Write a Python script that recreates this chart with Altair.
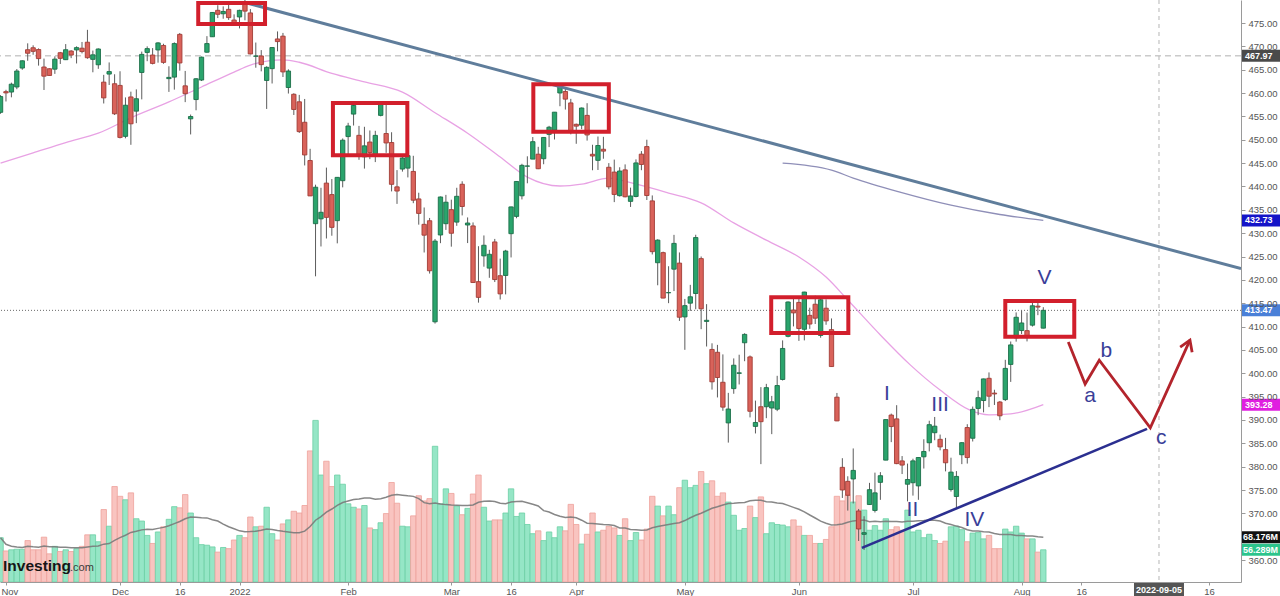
import altair as alt
import pandas as pd

# ---------------- daily OHLC (index -1 = 29 Oct 2021 ... 191 = 5 Aug 2022) ----------------
opens = [
    455.87,
    460.30, 460.22, 461.30, 465.36, 469.28, 469.70, 469.32, 465.58, 465.21, 465.12, 468.64, 467.15, 469.00, 469.24, 469.61, 470.89, 467.22, 466.06, 462.34, 464.07, 462.00,
    461.64, 450.73, 459.17, 456.13, 464.41, 468.70, 468.15, 469.23, 470.19, 463.09, 463.42, 472.57, 461.55, 454.48, 458.61, 462.79, 468.75, 472.06, 477.72, 476.98, 477.93, 475.64,
    476.30, 479.22, 477.16, 467.89, 467.95, 462.70, 465.23, 471.59, 472.19, 461.19, 459.74, 458.13, 453.75, 445.56, 432.03, 433.06, 440.72, 438.26, 432.68, 441.24,
    450.68, 455.50, 450.95, 446.35, 449.51, 446.73, 455.22, 451.34, 449.41, 439.92, 443.73, 443.93, 443.22, 437.33, 431.89, 432.66, 411.02, 429.61, 432.03,
    435.04, 432.37, 440.47, 431.75, 431.55, 419.62, 425.14, 422.52, 428.12, 420.89, 420.94, 429.89, 433.59, 438.00, 444.34, 445.86, 446.91, 445.94, 451.16, 452.06, 460.02, 460.34, 457.89,
    453.31, 453.13, 455.22, 446.89, 445.59, 447.97, 444.11, 443.08, 438.03, 443.55, 436.81, 437.86, 446.92, 448.54, 436.91, 423.67, 425.83, 417.24, 422.29, 423.59,
    412.07, 415.01, 417.08, 424.55, 411.10, 405.10, 404.49, 398.07, 389.37, 396.71, 399.98, 406.53, 403.50, 388.62, 392.83, 392.83, 392.56, 392.31, 398.67, 407.91, 413.55,
    415.17, 409.42, 412.40, 414.78, 408.10, 413.93, 409.34, 394.88, 379.85, 376.85, 377.36, 370.51, 365.51, 371.89, 370.62, 376.64, 381.40, 391.05, 390.23, 381.23, 376.24,
    376.56, 375.88, 382.11, 385.12, 387.27, 385.85, 383.65, 375.10, 373.61, 382.55, 388.38, 386.08, 392.47, 394.16, 398.92, 395.75, 393.84, 394.36, 401.89, 407.58,
    409.15, 409.12, 410.30, 414.37, 409.66,
]
highs = [
    459.56,
    460.70, 462.23, 465.15, 467.00, 470.65, 470.23, 469.57, 467.38, 465.29, 467.86, 468.81, 470.49, 469.19, 470.01, 470.94, 473.54, 469.10, 469.57, 463.90, 466.56, 464.03,
    464.67, 459.07, 460.30, 460.79, 468.88, 470.00, 469.63, 470.90, 470.56, 465.74, 470.86, 472.87, 464.74, 455.40, 463.21, 467.81, 472.19, 477.31, 478.81, 478.56, 479.00, 476.86,
    477.85, 479.98, 477.98, 470.82, 469.20, 465.74, 469.85, 473.20, 472.88, 465.09, 459.96, 459.61, 458.74, 448.06, 440.38, 439.72, 444.04, 441.59, 442.00, 450.28,
    453.63, 458.12, 452.97, 452.78, 451.99, 451.92, 457.88, 457.71, 451.61, 443.50, 446.28, 448.06, 446.57, 438.66, 435.50, 433.26, 428.76, 437.84, 438.20,
    437.17, 439.72, 441.11, 433.37, 432.30, 427.21, 429.51, 426.43, 428.77, 424.55, 426.43, 435.68, 441.07, 444.86, 446.46, 450.58, 448.49, 450.50, 452.98, 455.91, 462.07, 461.20, 458.76,
    453.46, 456.91, 457.83, 448.93, 450.69, 450.63, 445.00, 445.75, 444.11, 444.73, 439.75, 445.80, 447.57, 450.01, 438.08, 428.69, 426.04, 422.92, 429.64, 425.87,
    415.92, 418.93, 429.66, 425.00, 414.80, 406.41, 406.08, 404.04, 395.80, 403.18, 403.97, 408.57, 403.80, 394.14, 397.03, 397.73, 395.15, 399.45, 407.04, 415.38, 416.46,
    416.24, 417.44, 414.04, 416.61, 416.22, 415.82, 411.74, 395.78, 381.81, 377.94, 383.90, 370.94, 369.38, 376.53, 378.72, 378.83, 390.09, 391.36, 393.16, 382.27, 380.66,
    381.70, 381.98, 385.87, 389.83, 390.64, 386.87, 386.16, 381.92, 379.05, 385.25, 389.09, 392.87, 396.26, 398.84, 400.18, 396.47, 394.06, 402.88, 406.80, 413.03,
    413.41, 413.00, 415.68, 415.09, 414.15,
]
lows = [
    455.56,
    458.20, 459.09, 460.83, 464.99, 466.92, 468.20, 465.88, 460.66, 463.75, 464.11, 466.23, 467.07, 467.48, 466.34, 468.50, 467.35, 464.45, 465.19, 457.77, 461.73, 455.30,
    450.29, 450.31, 448.92, 453.56, 458.65, 466.83, 466.14, 466.51, 466.27, 460.25, 460.74, 464.80, 458.06, 451.14, 456.31, 462.58, 468.64, 472.01, 476.06, 475.92, 475.67, 474.67,
    473.85, 475.58, 468.28, 465.43, 464.65, 456.60, 462.05, 468.94, 463.44, 459.90, 455.31, 451.46, 444.50, 437.95, 420.76, 427.15, 428.86, 429.45, 427.82, 439.81,
    446.94, 453.05, 445.71, 443.83, 445.85, 445.22, 455.01, 447.20, 438.94, 436.27, 443.18, 441.94, 436.42, 431.82, 425.86, 421.35, 410.64, 427.86, 430.70,
    427.11, 431.57, 433.80, 427.88, 419.36, 415.12, 422.82, 420.44, 419.53, 415.79, 416.89, 424.80, 433.19, 437.22, 440.68, 445.86, 443.71, 444.76, 448.43, 450.06, 457.18, 456.47, 451.16,
    449.14, 452.26, 449.82, 443.47, 443.53, 445.94, 439.39, 436.65, 437.84, 437.68, 435.61, 437.68, 443.48, 437.10, 425.44, 418.84, 416.07, 415.01, 417.60, 411.21,
    405.02, 413.36, 413.71, 409.44, 405.73, 396.50, 394.82, 391.96, 385.15, 395.61, 397.60, 402.58, 390.55, 387.11, 380.54, 390.38, 386.96, 391.89, 398.45, 407.70, 410.03,
    406.93, 407.04, 409.51, 410.55, 407.61, 410.38, 401.44, 389.75, 373.30, 370.59, 372.12, 364.08, 362.17, 371.81, 370.18, 372.89, 381.37, 385.25, 380.53, 378.42, 372.56,
    373.80, 372.90, 379.60, 383.27, 385.66, 383.50, 378.99, 374.66, 371.04, 380.54, 380.66, 385.39, 391.03, 391.63, 392.75, 393.21, 389.95, 394.05, 398.15, 406.77,
    408.40, 406.82, 410.00, 412.44, 409.60,
]
closes = [
    459.25,
    460.04, 461.90, 464.72, 466.91, 468.53, 468.93, 467.38, 463.62, 463.77, 467.27, 467.43, 469.28, 468.14, 469.73, 468.89, 467.57, 468.19, 469.44, 458.97, 464.60, 455.56,
    450.50, 457.40, 453.42, 458.79, 468.28, 469.52, 466.35, 470.74, 466.57, 463.36, 470.60, 466.45, 459.87, 454.98, 463.06, 467.69, 470.60, 477.26, 476.87, 477.48, 476.16, 474.96,
    477.71, 477.55, 468.38, 467.94, 466.09, 465.51, 469.75, 471.02, 464.53, 464.72, 456.49, 451.75, 446.75, 437.98, 439.84, 434.47, 433.38, 431.24, 441.95, 449.91,
    452.95, 457.35, 446.60, 448.70, 447.26, 450.94, 457.54, 449.32, 440.46, 439.02, 446.10, 446.60, 437.06, 434.23, 429.57, 421.95, 428.30, 437.75, 436.63,
    429.98, 437.89, 435.71, 432.17, 419.43, 416.25, 427.41, 425.48, 420.07, 417.00, 426.17, 435.62, 441.07, 444.52, 444.39, 449.59, 443.80, 450.49, 452.69, 455.91, 461.55, 458.70, 451.64,
    452.92, 456.80, 451.03, 446.52, 448.77, 447.57, 439.92, 438.29, 443.31, 437.79, 437.97, 445.04, 444.71, 438.06, 426.04, 428.51, 416.10, 417.27, 427.81, 412.00,
    414.48, 416.38, 429.06, 413.81, 411.34, 398.17, 399.09, 392.75, 392.34, 401.72, 400.09, 408.32, 391.86, 389.46, 389.63, 396.92, 393.89, 397.37, 405.31, 415.26, 412.93,
    409.59, 417.39, 410.54, 411.79, 415.74, 411.22, 401.44, 389.80, 375.00, 373.87, 379.20, 366.65, 365.86, 375.07, 374.39, 378.06, 390.08, 388.59, 380.65, 380.34, 377.25,
    381.24, 381.96, 383.25, 388.99, 388.67, 384.23, 380.83, 378.83, 377.91, 385.13, 381.95, 392.27, 394.77, 398.79, 395.09, 395.57, 390.89, 401.04, 406.07, 411.99,
    410.77, 408.06, 414.45, 414.17, 413.47,
]
# volume in millions
volumes = [
    77,
    54, 56, 57, 57, 72, 56, 56, 78, 49, 62, 53, 56, 53, 58, 62, 82, 82, 70, 126, 97, 166,
    149, 143, 155, 110, 106, 81, 67, 87, 96, 109, 131, 129, 152, 120, 77, 65, 64, 61, 52, 60, 58, 73,
    81, 77, 113, 96, 97, 130, 84, 73, 101, 108, 123, 120, 133, 228, 281, 186, 210, 166, 186, 170,
    136, 130, 127, 133, 94, 91, 103, 119, 173, 137, 97, 96, 115, 150, 141, 145, 236, 136, 162,
    154, 132, 117, 128, 153, 186, 130, 106, 108, 108, 120, 162, 114, 120, 100, 84, 89, 72, 87, 77, 96, 89, 135,
    100, 66, 83, 120, 87, 90, 97, 94, 81, 110, 72, 86, 73, 92, 149, 132, 115, 132, 117, 164,
    177, 164, 168, 192, 171, 176, 149, 155, 139, 116, 90, 93, 132, 112, 148, 84, 103, 100, 99, 96, 108,
    97, 81, 81, 67, 67, 74, 96, 149, 141, 151, 139, 150, 125, 90, 98, 90, 110, 91, 96, 90, 125,
    87, 90, 77, 83, 72, 67, 71, 96, 97, 91, 70, 85, 86, 75, 81, 58, 58, 92, 87, 97,
    85, 75, 75, 52, 56,
]

# moving averages (trading-day index, price)
ma50_idx = [-1, 5, 11, 17, 23, 30, 36, 42, 45, 51, 54, 60, 66, 73, 79, 85, 91, 96, 102, 106, 111, 115, 122, 128, 134, 140, 146, 151, 155, 161, 166.5, 172, 177.5, 181, 185, 191]
ma50_val = [445.0, 447.2, 449.4, 451.4, 454.7, 458.1, 461.3, 464.5, 466.0, 467.1, 466.6, 464.2, 462.4, 460.2, 455.8, 451.4, 446.3, 442.0, 440.1, 440.5, 441.8, 440.8, 438.6, 436.5, 432.2, 428.5, 424.9, 420.6, 415.7, 408.2, 401.8, 396.4, 392.1, 391.1, 391.3, 393.28]
ma200_idx = [143, 152, 156, 164.6, 174, 183, 191]
ma200_val = [445.0, 443.5, 441.8, 438.8, 436.0, 434.0, 432.73]

# x-axis labels (trading-day index)
xlab_idx = [0, 21, 32, 43, 63, 82, 93, 105, 125, 146, 167, 187, 198, 221.5]
xlab_txt = ["Nov", "Dec", "16", "2022", "Feb", "Mar", "16", "Apr", "May", "Jun", "Jul", "Aug", "16", "16"]
ylab_vals = [v for v in range(360, 481, 5) if v != 365]

# annotations
down_idx, down_val = [44, 227.4], [479.4, 422.4]
up_idx, up_val = [157.6, 210.1], [362.6, 388.1]
box_i0 = [35.4, 60.2, 97.1, 140.9, 184.0]
box_i1 = [47.7, 73.9, 111.0, 155.1, 196.7]
box_lo = [474.8, 446.7, 451.7, 408.6, 407.8]
box_hi = [479.3, 457.9, 461.9, 416.3, 415.5]
zig_idx = [195.6, 198.7, 201.3, 210.7, 218.0]
zig_val = [406.7, 397.7, 402.8, 388.3, 407.1]
head_idx = [216.2, 218.0, 218.4]
head_val = [405.6, 407.1, 404.5]
wave_txt = ["I", "II", "III", "IV", "V", "a", "b", "c"]
wave_idx = [162.2, 166.9, 172.0, 178.3, 191.2, 199.6, 202.6, 212.7]
wave_val = [395.6, 370.7, 393.2, 368.6, 420.4, 395.1, 404.8, 386.1]
tag_val = [467.97, 432.73, 413.47, 393.28]
tag_txt = ["467.97", "432.73", "413.47", "393.28"]
tag_col = ["#4a4a4a", "#1414c8", "#4a80d8", "#e01fe0"]
cross_idx, cross_txt = 212.3, "2022-09-05"

# ---------------- build ----------------
idx = list(range(-1, 192))
df = pd.DataFrame({"i": idx, "open": opens, "high": highs, "low": lows, "close": closes, "vol": volumes})
df["vma"] = df["vol"].rolling(20, min_periods=1).mean()

W, H = 1241, 582
XD = [-1.1, 227.4]
YD = [355.3, 479.93]
VD = [0, 1012]
FONT = "Liberation Sans"
up_cond = "datum.close >= datum.open"

label_expr = " : ".join(f"datum.value == {v} ? '{t}'" for v, t in zip(xlab_idx, xlab_txt)) + " : ''"
XAXIS = alt.Axis(values=xlab_idx, labelExpr=label_expr, title=None, grid=False, domainColor="#9a9a9a",
                 tickColor="#9a9a9a", tickSize=3, labelColor="#555555", labelFontSize=9.5, labelFont=FONT,
                 labelPadding=1, labelFlush=8, labelFlushOffset=5, labelOverlap=False, labelBound=False, zindex=1)
YAXIS = alt.Axis(orient="right", values=ylab_vals, format=".2f", title=None, grid=False,
                 tickSize=4, labelPadding=3, labelFontSize=9.5, labelFont=FONT, labelColor="#555555",
                 domainColor="#9a9a9a", tickColor="#9a9a9a", zindex=1, labelFlush=False, labelOverlap=False)


def X(field):
    return alt.X(field, scale=alt.Scale(domain=XD, nice=False, zero=False), axis=XAXIS)


def Y(field):
    return alt.Y(field, scale=alt.Scale(domain=YD, nice=False, zero=False), axis=None)


def V(field):
    return alt.Y(field, scale=alt.Scale(domain=VD, nice=False, zero=False), axis=None)


base = alt.Chart(df)

# ---- volume
vol_bars = base.transform_calculate(x0="datum.i-0.5", x1="datum.i+0.5").mark_bar(strokeWidth=0.8, clip=True).encode(
    x=X("x0:Q"), x2="x1:Q", y=V("vol:Q"), y2=alt.datum(0),
    fill=alt.condition(up_cond, alt.value("#95e6c6"), alt.value("#f9c4c0")),
    stroke=alt.condition(up_cond, alt.value("#6ccfa5"), alt.value("#eea29c")),
)
vol_ma = base.mark_line(color="#7a7a7a", strokeWidth=1.5, opacity=0.9, clip=True).encode(x=X("i:Q"), y=V("vma:Q"))
last = df.iloc[-1]
vtags = pd.DataFrame({"v": [last["vma"], last["vol"]], "t": ["68.176M", "56.289M"], "c": ["#111111", "#2cc48c"]})
vtag_bg = alt.Chart(vtags).mark_point(shape="M0,-6H39V6H0Z", size=4, filled=True, opacity=1, strokeWidth=0, clip=False).encode(
    x=alt.value(1241.5), y=V("v:Q"), color=alt.Color("c:N", scale=None))
vtag_tx = alt.Chart(vtags).mark_text(align="left", baseline="middle", color="white", fontSize=9, fontWeight="bold", font=FONT, clip=False).encode(
    x=alt.value(1243), y=V("v:Q"), text="t:N")

# ---- price
ref_dash = alt.Chart(pd.DataFrame({"v": [467.97]})).mark_rule(color="#b0b0b0", strokeDash=[6, 4], strokeWidth=1).encode(y=Y("v:Q"))
ref_dot = alt.Chart(pd.DataFrame({"v": [413.47]})).mark_rule(color="#6a6a6a", strokeDash=[1, 2], strokeWidth=1).encode(y=Y("v:Q"))
vdf = pd.DataFrame({"i": [cross_idx], "t": [cross_txt]})
vline = alt.Chart(vdf).mark_rule(color="#b5b5b5", strokeDash=[4, 4], strokeWidth=1).encode(x=X("i:Q"))

ma50 = alt.Chart(pd.DataFrame({"i": ma50_idx, "v": ma50_val})).mark_line(color="#e8a2e4", strokeWidth=1.3, interpolate="monotone", clip=True).encode(
    x=X("i:Q"), y=Y("v:Q"))
ma200 = alt.Chart(pd.DataFrame({"i": ma200_idx, "v": ma200_val})).mark_line(color="#8f8fb8", strokeWidth=1.3, interpolate="monotone", clip=True).encode(
    x=X("i:Q"), y=Y("v:Q"))

wicks = base.mark_rule(color="#5c5c5c", strokeWidth=1, clip=True).encode(x=X("i:Q"), y=Y("low:Q"), y2="high:Q")
bodies = base.transform_calculate(x0="datum.i-0.4", x1="datum.i+0.4").mark_bar(strokeWidth=0.9, clip=True).encode(
    x=X("x0:Q"), x2="x1:Q", y=Y("open:Q"), y2="close:Q",
    fill=alt.condition(up_cond, alt.value("#2aa46c"), alt.value("#d9625a")),
    stroke=alt.condition(up_cond, alt.value("#1b6e48"), alt.value("#a13c35")),
)

down = alt.Chart(pd.DataFrame({"i": down_idx, "v": down_val})).mark_line(color="#5f7d9b", strokeWidth=3, clip=True).encode(
    x=X("i:Q"), y=Y("v:Q"))
upl = alt.Chart(pd.DataFrame({"i": up_idx, "v": up_val})).mark_line(color="#2b2f90", strokeWidth=2.6, clip=True).encode(
    x=X("i:Q"), y=Y("v:Q"))
boxes = alt.Chart(pd.DataFrame({"a": box_i0, "b": box_i1, "lo": box_lo, "hi": box_hi})).mark_rect(
    fillOpacity=0, stroke="#d21f2c", strokeWidth=4, clip=True).encode(x=X("a:Q"), x2="b:Q", y=Y("lo:Q"), y2="hi:Q")
zig = alt.Chart(pd.DataFrame({"i": zig_idx, "v": zig_val, "o": list(range(len(zig_idx)))})).mark_line(
    color="#b3242c", strokeWidth=2.8, clip=True).encode(x=X("i:Q"), y=Y("v:Q"), order="o:Q")
head = alt.Chart(pd.DataFrame({"i": head_idx, "v": head_val, "o": [0, 1, 2]})).mark_line(
    color="#b3242c", strokeWidth=2.8, clip=True).encode(x=X("i:Q"), y=Y("v:Q"), order="o:Q")
waves = alt.Chart(pd.DataFrame({"i": wave_idx, "v": wave_val, "t": wave_txt})).mark_text(
    fontSize=21, font=FONT, color="#3a3e98", align="center", baseline="middle").encode(x=X("i:Q"), y=Y("v:Q"), text="t:N")

pt = pd.DataFrame({"v": tag_val, "t": tag_txt, "c": tag_col})
ptag_bg = alt.Chart(pt).mark_point(shape="M0,-6H39V6H0Z", size=4, filled=True, opacity=1, strokeWidth=0, clip=False).encode(
    x=alt.value(1241.5), y=Y("v:Q"), color=alt.Color("c:N", scale=None))
ptag_tx = alt.Chart(pt).mark_text(align="left", baseline="middle", color="white", fontSize=9, fontWeight="bold", font=FONT, clip=False).encode(
    x=alt.value(1245), y=Y("v:Q"), text="t:N")
dtag_bg = alt.Chart(vdf).mark_point(shape="M-25,-7H25V7H-25Z", size=4, filled=True, opacity=1, strokeWidth=0, color="#555555", clip=False).encode(
    x=X("i:Q"), y=alt.value(589))
dtag_tx = alt.Chart(vdf).mark_text(align="center", baseline="middle", color="white", fontSize=9, fontWeight="bold", font=FONT, clip=False).encode(
    x=X("i:Q"), y=alt.value(589.5), text="t:N")

logo_df = pd.DataFrame({"a": ["Investing"], "b": [".com"]})
logo1 = alt.Chart(logo_df).mark_text(align="left", baseline="alphabetic", fontSize=15.5, fontWeight="bold", font=FONT, color="#161616").encode(
    x=alt.value(3), y=alt.value(571), text="a:N")
logo2 = alt.Chart(logo_df).mark_text(align="left", baseline="alphabetic", fontSize=11, font=FONT, color="#3a3a3a").encode(
    x=alt.value(70), y=alt.value(571), text="b:N")

# invisible layer carrying the price axis
axdf = pd.DataFrame({"i": [XD[0]], "v": [YD[0]]})
axes_layer = alt.Chart(axdf).mark_point(opacity=0, clip=True).encode(
    x=X("i:Q"), y=alt.Y("v:Q", scale=alt.Scale(domain=YD, nice=False, zero=False), axis=YAXIS))

chart = alt.layer(
    vol_bars, vol_ma, ref_dash, ref_dot, vline, ma50, ma200, wicks, bodies, down, upl, boxes, zig, head, waves,
    vtag_bg, vtag_tx, ptag_bg, ptag_tx, dtag_bg, dtag_tx, logo1, logo2, axes_layer,
).resolve_scale(y="independent").properties(
    width=W, height=H, padding={"left": 0, "top": 0, "right": 39, "bottom": 14},
    autosize=alt.AutoSizeParams(type="none"), background="white",
).configure_view(stroke=None)

chart.save("out.html", embed_options={"renderer": "svg", "actions": False})
